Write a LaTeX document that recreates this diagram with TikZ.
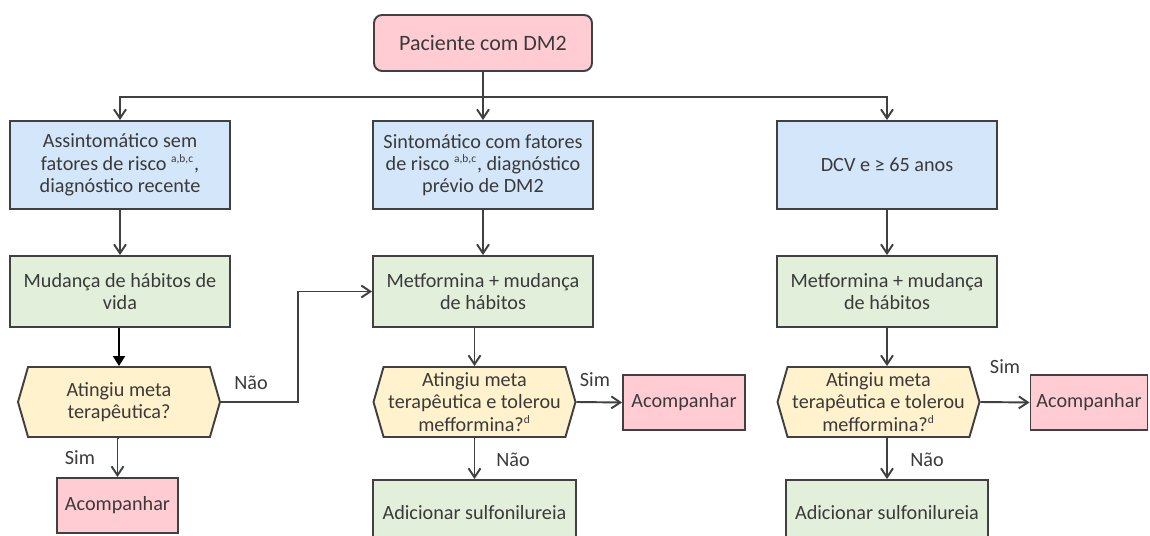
\documentclass[tikz,border=0pt]{standalone}
\usepackage{fontspec}
\setmainfont{Carlito}
\usetikzlibrary{arrows.meta,shapes.symbols}
\definecolor{pinkfill}{HTML}{FFCCD3}
\definecolor{bluefill}{HTML}{D4E7FA}
\definecolor{greenfill}{HTML}{E2EFDA}
\definecolor{yellowfill}{HTML}{FFF2CC}
\definecolor{linegray}{HTML}{404040}
\definecolor{textgray}{HTML}{3A3A3A}
\newcommand{\sobre}[1]{\textsuperscript{\fontsize{6.5}{7}\selectfont #1}}
\begin{document}
\begin{tikzpicture}[x=0.02cm,y=-0.02cm,
  font=\fontsize{11.5}{12.7}\selectfont,
  caixa/.style={draw=linegray,line width=1.1pt,align=center,inner sep=0pt,text=textgray},
  azul/.style={caixa,fill=bluefill,minimum width=4.4cm,minimum height=1.76cm},
  verde/.style={caixa,fill=greenfill,minimum width=4.4cm,minimum height=1.42cm},
  rosa/.style={caixa,fill=pinkfill,minimum height=1.1cm},
  pergunta/.style={caixa,fill=yellowfill,shape=signal,signal to=west and east,
    signal pointer angle=148,minimum width=4.04cm,minimum height=1.4cm},
  seta/.style={draw=linegray,line width=1.1pt,-{Straight Barb[length=0.18cm,width=0.24cm]}},
  cheia/.style={draw=black,line width=1.1pt,-{Triangle[length=0.2cm,width=0.24cm]}},
  rotulo/.style={text=textgray,inner sep=0pt}]
\clip (0,0) rectangle (1150,536);

\node[rosa,rounded corners=0.16cm,minimum width=4.36cm,minimum height=1.12cm,
  font=\fontsize{12.5}{14}\selectfont] (pac) at (483,43) {Paciente com DM2};
\coordinate (split) at (483,97);

% perfis
\node[azul] (b1) at (120,165) {Assintomático sem\\fatores de risco \sobre{a,b,c},\\diagnóstico recente};
\node[azul] (b2) at (483,165) {Sintomático com fatores\\de risco \sobre{a,b,c}, diagnóstico\\prévio de DM2};
\node[azul] (b3) at (887,165) {DCV e ≥ 65 anos};

\node[verde] (g1) at (120,291.5) {Mudança de hábitos de\\vida};
\node[verde] (g2) at (483,291.5) {Metformina + mudança\\de hábitos};
\node[verde] (g3) at (887,291.5) {Metformina + mudança\\de hábitos};

\node[pergunta] (h1) at (119,402) {Atingiu meta\\terapêutica?};
\node[pergunta] (h2) at (474.5,402) {Atingiu meta\\terapêutica e tolerou\\mefformina?\sobre{d}};
\node[pergunta] (h3) at (878.5,402) {Atingiu meta\\terapêutica e tolerou\\mefformina?\sobre{d}};

\node[rosa,minimum width=2.42cm] (ac1) at (117.5,505.5) {Acompanhar};
\node[rosa,minimum width=2.44cm] (ac2) at (684,402.5) {Acompanhar};
\node[rosa,minimum width=2.34cm] (ac3) at (1089,402.5) {Acompanhar};

\node[verde,minimum width=4.06cm,minimum height=1.3cm] (ad2) at (474.5,512.5) {Adicionar sulfonilureia};
\node[verde,minimum width=4.04cm,minimum height=1.3cm] (ad3) at (887,512.5) {Adicionar sulfonilureia};

\draw[seta] (pac.south) -- (b2.north);
\draw[seta] (split) -| (b1.north);
\draw[seta] (split) -| (b3.north);
\foreach \i in {1,2,3}
    \draw[seta] (b\i) -- (g\i);

\draw[cheia] (g1.south -| h1.north) -- (h1.north);
\draw[seta] (g2.south -| h2.north) -- (h2.north);
\draw[seta] (g3.south) -- (g3.south |- h3.north);

\draw[seta] (h1.east) -- ++(77,0) |- (g2.west);
\draw[seta] (h1.south) -- (h1.south -| ac1.north) -- (ac1.north);
\draw[seta] (h2.east) -- (ac2.west);
\draw[seta] (h3.east) -- (ac3.west);
\draw[seta] (h2.south) -- (ad2.north);
\draw[seta] (ad3.north |- h3.south) -- (ad3.north);

\node[rotulo] (nao1) at (251,383) {Não};
\node[rotulo] (sim1) at (80,458) {Sim};
\node[rotulo] (sim2) at (595,380) {Sim};
\node[rotulo] (nao2) at (513,460) {Não};
\node[rotulo] (sim3) at (1005,367) {Sim};
\node[rotulo] (nao3) at (927,460) {Não};
\end{tikzpicture}
\end{document}
